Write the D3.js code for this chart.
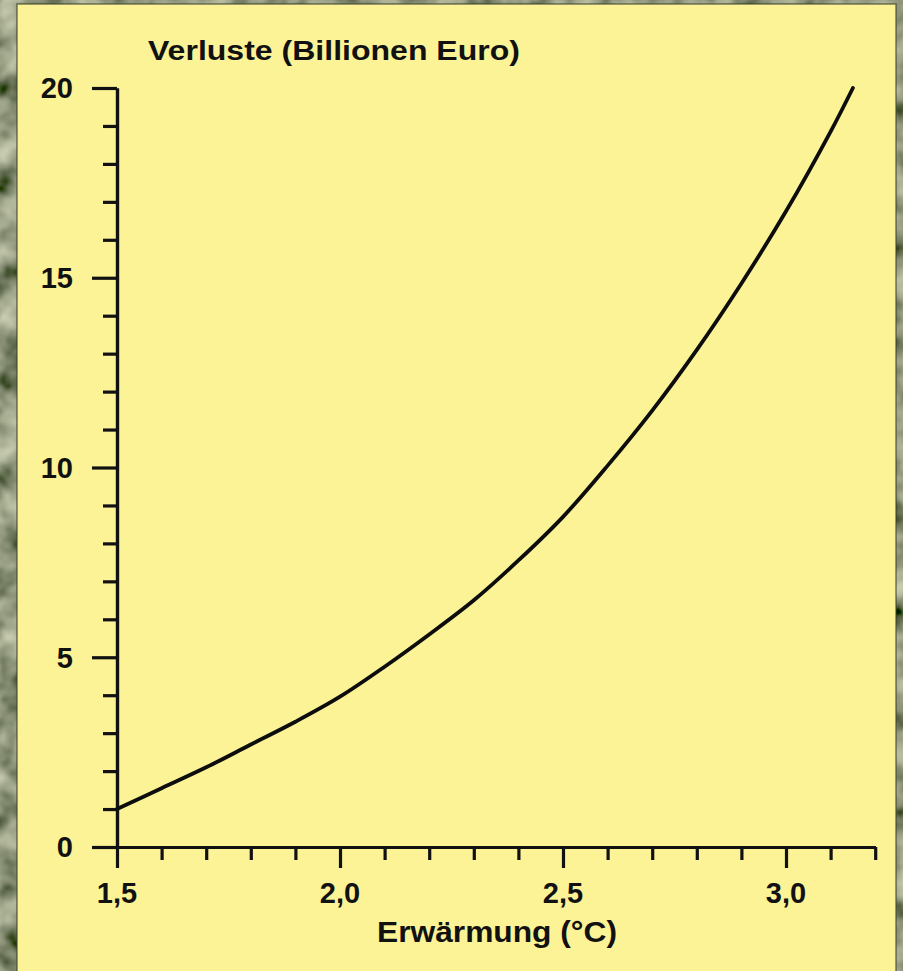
<!DOCTYPE html>
<html>
<head>
<meta charset="utf-8">
<script src="https://cdn.jsdelivr.net/npm/d3@7"></script>
<style>
  html, body { margin: 0; padding: 0; background: #5f6248; }
  svg { display: block; }
  text { font-family: "Liberation Sans", Arial, Helvetica, sans-serif; font-weight: bold; fill: #111; }
</style>
</head>
<body>
<script>
// ---- data ----
const warming = [1.5, 1.6, 1.7, 1.8, 1.9, 2.0, 2.1, 2.2, 2.3, 2.4, 2.5, 2.6, 2.7, 2.8, 2.9, 3.0, 3.1, 3.15];
const losses  = [1.0, 1.55, 2.1, 2.7, 3.3, 3.96, 4.75, 5.6, 6.5, 7.55, 8.7, 10.05, 11.5, 13.1, 14.85, 16.75, 18.85, 20.0];
const yMajorTicks = [0, 5, 10, 15, 20];
const yMinorTicks = [1,2,3,4,6,7,8,9,11,12,13,14,16,17,18,19];
const xMajorTicks = [1.5, 2.0, 2.5, 3.0];
const xMinorTicks = [1.6,1.7,1.8,1.9,2.1,2.2,2.3,2.4,2.6,2.7,2.8,2.9,3.1,3.2];
const xTickLabels = ["1,5", "2,0", "2,5", "3,0"];
const yTitle = "Verluste (Billionen Euro)";
const xTitle = "Erwärmung (°C)";

const W = 903, H = 971;
const svg = d3.select("body").append("svg").attr("width", W).attr("height", H);

// stone texture background
const defs = svg.append("defs");
const f = defs.append("filter").attr("id", "stone").attr("x", 0).attr("y", 0).attr("width", "100%").attr("height", "100%");
f.append("feTurbulence").attr("type", "fractalNoise").attr("baseFrequency", 0.03).attr("numOctaves", 3).attr("seed", 11).attr("result", "noise");
f.append("feColorMatrix").attr("in", "noise").attr("type", "matrix")
  .attr("values", "0.9 0 0 0 -0.16  0.9 0 0 0 -0.13  0.7 0 0 0 -0.14  0 0 0 0 1");
svg.append("rect").attr("width", W).attr("height", H).attr("fill", "#5f6248");
svg.append("rect").attr("width", W).attr("height", H).attr("filter", "url(#stone)");

// yellow panel
svg.append("rect").attr("x", 17).attr("y", 4).attr("width", 879).attr("height", H)
  .attr("fill", "#fbf396").attr("stroke", "#3f412c").attr("stroke-width", 1.5).attr("stroke-opacity", 0.7);

// scales
const x = d3.scaleLinear().domain([1.5, 3.2]).range([117, 117 + 1.7 * 446]);
const y = d3.scaleLinear().domain([0, 20]).range([847, 88]);

const g = svg.append("g");

function styleAxis(sel) {
  sel.selectAll("path").attr("stroke", "#111").attr("stroke-width", 3.2);
  sel.selectAll("line").attr("stroke", "#111").attr("stroke-width", 3.2);
  sel.selectAll("text").remove();
}

// y axis minor + major
g.append("g").attr("transform", `translate(${x(1.5)},0)`)
  .call(d3.axisLeft(y).tickValues(yMinorTicks).tickSize(14).tickSizeOuter(0))
  .call(styleAxis);
g.append("g").attr("transform", `translate(${x(1.5)},0)`)
  .call(d3.axisLeft(y).tickValues(yMajorTicks).tickSize(25).tickSizeOuter(0))
  .call(styleAxis);
// x axis minor + major
g.append("g").attr("transform", `translate(0,${y(0)})`)
  .call(d3.axisBottom(x).tickValues(xMinorTicks).tickSize(13).tickSizeOuter(0))
  .call(styleAxis);
g.append("g").attr("transform", `translate(0,${y(0)})`)
  .call(d3.axisBottom(x).tickValues(xMajorTicks).tickSize(21).tickSizeOuter(0))
  .call(styleAxis);

// tick labels
g.selectAll(".ylab").data(yMajorTicks).enter().append("text")
  .attr("x", 73).attr("y", d => y(d)).attr("dy", "0.36em")
  .attr("text-anchor", "end").attr("font-size", 29)
  .text(d => d);
g.selectAll(".xlab").data(xMajorTicks).enter().append("text")
  .attr("x", d => x(d)).attr("y", 903)
  .attr("text-anchor", "middle").attr("font-size", 29)
  .text((d, i) => xTickLabels[i]);

// titles
svg.append("text").attr("x", 148).attr("y", 60).attr("font-size", 28)
  .attr("textLength", 372).attr("lengthAdjust", "spacingAndGlyphs").text(yTitle);
svg.append("text").attr("x", 377).attr("y", 942).attr("font-size", 29)
  .attr("textLength", 240).attr("lengthAdjust", "spacingAndGlyphs").text(xTitle);

// curve
const pts = warming.map((w, i) => [w, losses[i]]);
g.append("path").datum(pts)
  .attr("fill", "none").attr("stroke", "#0d0d0d").attr("stroke-width", 3.8)
  .attr("stroke-linecap", "round")
  .attr("d", d3.line().x(d => x(d[0])).y(d => y(d[1])).curve(d3.curveCatmullRom.alpha(0.5)));
</script>
</body>
</html>
